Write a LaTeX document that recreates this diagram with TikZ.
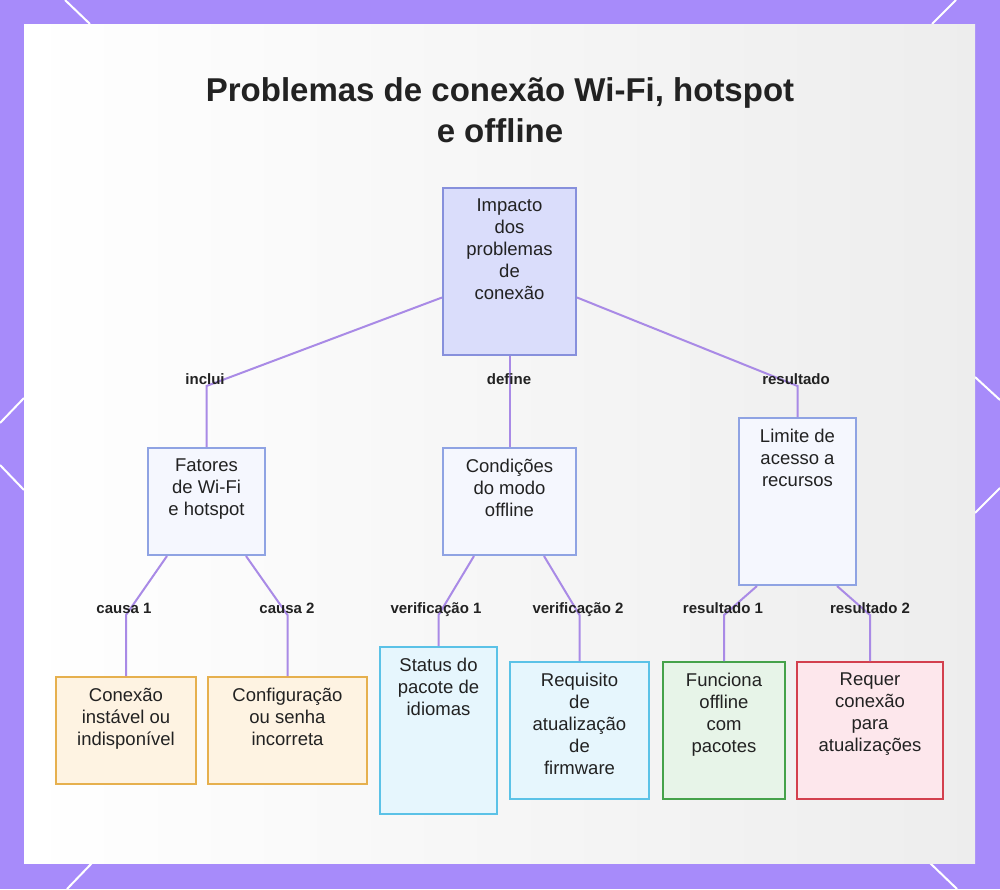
\documentclass[tikz,border=0pt]{standalone}
\usepackage{fontspec}
\setmainfont{Liberation Sans}
\definecolor{bgpurple}{HTML}{A78BFA}
\definecolor{edgecol}{HTML}{A98AE6}
\definecolor{txt}{HTML}{222222}
\definecolor{impfill}{HTML}{DADDFB}
\definecolor{impdraw}{HTML}{8790DC}
\definecolor{midfill}{HTML}{F5F7FE}
\definecolor{middraw}{HTML}{8FA3E3}
\definecolor{orfill}{HTML}{FEF3E2}
\definecolor{ordraw}{HTML}{E6B04E}
\definecolor{blfill}{HTML}{E6F6FD}
\definecolor{bldraw}{HTML}{5BC2E7}
\definecolor{grfill}{HTML}{E7F4E8}
\definecolor{grdraw}{HTML}{45A24A}
\definecolor{rdfill}{HTML}{FDE7EC}
\definecolor{rddraw}{HTML}{D3404E}
\newcommand{\boxtxt}[3]{\parbox[t][#2pt][t]{#1pt}{\centering #3}}
\begin{document}
\begin{tikzpicture}[x=1pt, y=-1pt,
    block/.style={rectangle, draw, line width=2pt, inner xsep=0pt, inner ysep=11pt, text=txt, font=\fontsize{18.5}{22}\selectfont},
    impblock/.style={block, fill=impfill, draw=impdraw},
    midblock/.style={block, fill=midfill, draw=middraw},
    orblock/.style={block, fill=orfill, draw=ordraw},
    blblock/.style={block, fill=blfill, draw=bldraw},
    grblock/.style={block, fill=grfill, draw=grdraw},
    rdblock/.style={block, fill=rdfill, draw=rddraw},
    tag/.style={inner sep=0pt, text height=11pt, text depth=2pt, text=txt, font=\fontsize{15}{18}\selectfont\bfseries},
    edge/.style={draw=edgecol, line width=2pt},
    deco/.style={draw=white, line width=2pt}]
    \useasboundingbox (0,0) rectangle (1000,889);
    \fill[bgpurple] (0,0) rectangle (1000,889);
    \draw[deco] (65,0) -- (90,24);
    \draw[deco] (956,0) -- (932,24);
    \draw[deco] (0,423) -- (24,398);
    \draw[deco] (0,465) -- (24,490);
    \draw[deco] (975,377) -- (1000,400);
    \draw[deco] (1000,488) -- (975,513);
    \draw[deco] (67,889) -- (92,863);
    \draw[deco] (930,863) -- (957,889);
    \shade[left color=white, right color=black!7] (24,24) rectangle (975,863);

    \node[font=\fontsize{33}{41}\selectfont\bfseries, text=txt, align=center] (title) at (500,110) {Problemas de conexão Wi-Fi, hotspot\\e offline};

    \node[impblock] (imp) at (509.5,271.5) {\boxtxt{133}{145}{Impacto\\dos\\problemas\\de\\conexão}};
    \node[midblock] (fat) at (206.5,501.5) {\boxtxt{117}{85}{Fatores\\de Wi-Fi\\e hotspot}};
    \node[midblock] (cond) at (509.5,501.5) {\boxtxt{133}{85}{Condições\\do modo\\offline}};
    \node[midblock] (lim) at (797.5,501.5) {\boxtxt{117}{145}{Limite de\\acesso a\\recursos}};
    \node[orblock] (con) at (126,730.5) {\boxtxt{140}{85}{Conexão\\instável ou\\indisponível}};
    \node[orblock] (cfg) at (287.5,730.5) {\boxtxt{159}{85}{Configuração\\ou senha\\incorreta}};
    \node[blblock] (sta) at (438.5,730.5) {\boxtxt{117}{145}{Status do\\pacote de\\idiomas}};
    \node[blblock] (req) at (579.5,730.5) {\boxtxt{139}{115}{Requisito\\de\\atualização\\de\\firmware}};
    \node[grblock] (fun) at (724,730.5) {\boxtxt{122}{115}{Funciona\\offline\\com\\pacotes}};
    \node[rdblock] (rqc) at (870,730.5) {\boxtxt{146}{115}{Requer\\conexão\\para\\atualizações}};

    \draw[edge] ([yshift=-26pt]imp.west) -- (fat.north |- 0,386) -- (fat.north);
    \draw[edge] (imp.south) -- (cond.north);
    \draw[edge] ([yshift=-26pt]imp.east) -- (lim.north |- 0,386) -- (lim.north);
    \draw[edge] ([xshift=20pt]fat.south west) -- (con.north |- 0,615) -- (con.north);
    \draw[edge] ([xshift=-20pt]fat.south east) -- (cfg.north |- 0,615) -- (cfg.north);
    \draw[edge] ([xshift=32pt]cond.south west) -- (sta.north |- 0,615) -- (sta.north);
    \draw[edge] ([xshift=-33pt]cond.south east) -- (req.north |- 0,615) -- (req.north);
    \draw[edge] ([xshift=19pt]lim.south west) -- (fun.north |- 0,615) -- (fun.north);
    \draw[edge] ([xshift=-20pt]lim.south east) -- (rqc.north |- 0,615) -- (rqc.north);

    \node[tag] (inc) at (205,379.5) {inclui};
    \node[tag] (def) at (509,379.5) {define};
    \node[tag] (res) at (796,379.5) {resultado};
    \node[tag] (c1) at (124,608.5) {causa 1};
    \node[tag] (c2) at (287,608.5) {causa 2};
    \node[tag] (v1) at (436,608.5) {verificação 1};
    \node[tag] (v2) at (578,608.5) {verificação 2};
    \node[tag] (r1) at (723,608.5) {resultado 1};
    \node[tag] (r2) at (870,608.5) {resultado 2};
\end{tikzpicture}
\end{document}
